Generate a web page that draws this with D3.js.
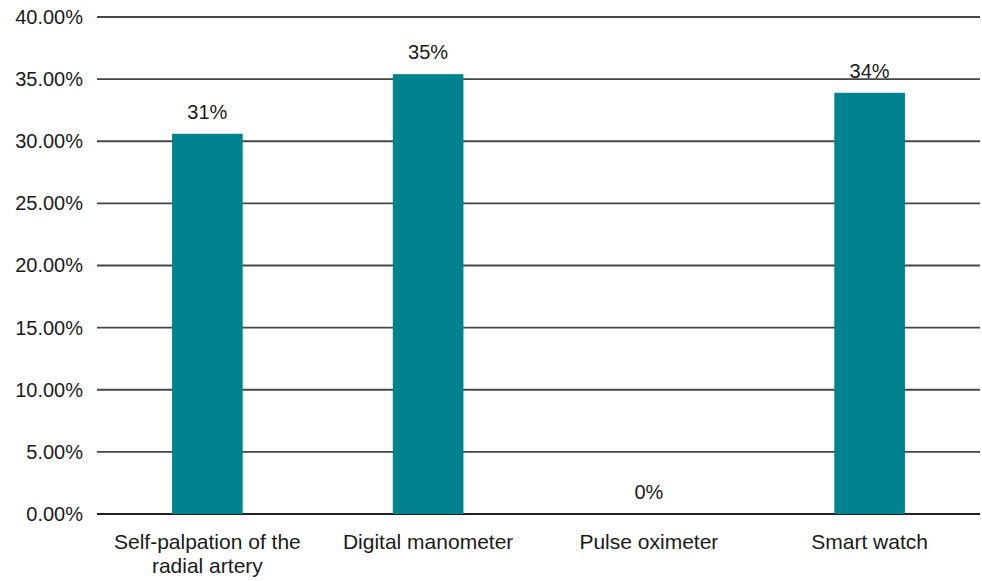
<!DOCTYPE html>
<html>
<head>
<meta charset="utf-8">
<script src="https://cdn.jsdelivr.net/npm/d3@7"></script>
<style>
  body { margin: 0; background: #fff; }
  svg text { font-family: "Liberation Sans", Arial, Helvetica, sans-serif; fill: #1a1a1a; }
</style>
</head>
<body>
<svg id="chart" width="982" height="581"></svg>
<script>
// values (percent)
var categories = ["Self-palpation of the radial artery", "Digital manometer", "Pulse oximeter", "Smart watch"];
var shares = [30.6, 35.4, 0, 33.9];
var shareLabels = ["31%", "35%", "0%", "34%"];
var yTicks = [0, 5, 10, 15, 20, 25, 30, 35, 40];

var margin = {top: 17, right: 2, bottom: 67, left: 97};
var width = 982, height = 581;

var svg = d3.select("#chart");

var xScale = d3.scaleBand()
    .domain(categories)
    .range([margin.left, width - margin.right])
    .paddingInner(0.68)
    .paddingOuter(0.34);

var yScale = d3.scaleLinear()
    .domain([0, 40])
    .range([height - margin.bottom, margin.top]);

// gridlines
svg.append("g").selectAll("line")
    .data(yTicks)
    .enter().append("line")
    .attr("x1", margin.left)
    .attr("x2", width - margin.right)
    .attr("y1", function(d) { return yScale(d); })
    .attr("y2", function(d) { return yScale(d); })
    .attr("stroke", function(d) { return d == 0 ? "#222" : "#474747"; })
    .attr("stroke-width", 1.8);

// y axis labels
var yAxis = d3.axisLeft(yScale)
    .tickValues(yTicks)
    .tickSize(0)
    .tickPadding(14)
    .tickFormat(function(d) { return d3.format(".2f")(d) + "%"; });

var yG = svg.append("g")
    .attr("transform", "translate(" + margin.left + ",0)")
    .call(yAxis);
yG.select(".domain").remove();
yG.selectAll("text")
    .style("font-size", "20px")
    .attr("fill", "#1a1a1a");

// bars
svg.append("g").selectAll("rect")
    .data(shares)
    .enter().append("rect")
    .attr("x", function(d, i) { return xScale(categories[i]); })
    .attr("y", function(d) { return yScale(d); })
    .attr("width", xScale.bandwidth())
    .attr("height", function(d) { return yScale(0) - yScale(d); })
    .attr("fill", "#00838f");

// value labels
svg.append("g").selectAll("text")
    .data(shares)
    .enter().append("text")
    .attr("x", function(d, i) { return xScale(categories[i]) + xScale.bandwidth() / 2; })
    .attr("y", function(d) { return yScale(d) - 15; })
    .attr("text-anchor", "middle")
    .style("font-size", "20px")
    .text(function(d, i) { return shareLabels[i]; });

// category labels, wrapped like the original
var catLines = [["Self-palpation of the", "radial artery"], ["Digital manometer"], ["Pulse oximeter"], ["Smart watch"]];
var catG = svg.append("g").selectAll("text")
    .data(categories)
    .enter().append("text")
    .attr("x", function(d) { return xScale(d) + xScale.bandwidth() / 2; })
    .attr("y", yScale(0) + 35)
    .attr("text-anchor", "middle")
    .style("font-size", "21px");

catG.each(function(d, i) {
    var t = d3.select(this);
    catLines[i].forEach(function(line, j) {
        t.append("tspan")
            .attr("x", xScale(d) + xScale.bandwidth() / 2)
            .attr("dy", j == 0 ? 0 : 24)
            .text(line);
    });
});
</script>
</body>
</html>
